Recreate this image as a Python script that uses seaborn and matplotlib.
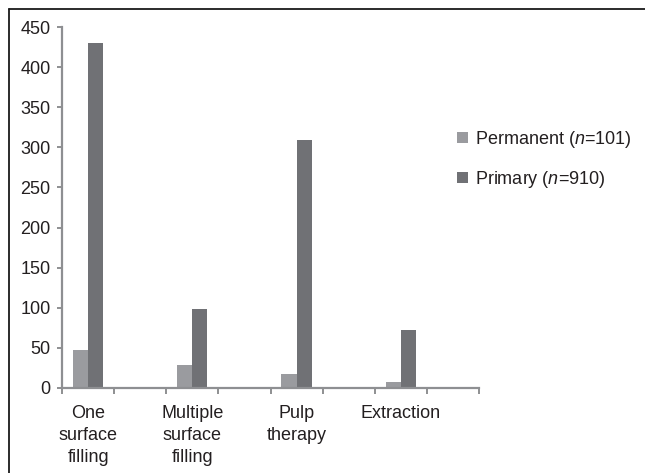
import matplotlib
matplotlib.use("Agg")
import matplotlib.pyplot as plt
from matplotlib.lines import Line2D
import numpy as np
import pandas as pd
import seaborn as sns

# Treatment counts by dentition
treatments = ["One\nsurface\nfilling", "Multiple\nsurface\nfilling", "Pulp\ntherapy", "Extraction"]
permanent = [47, 29, 18, 7]
primary = [430, 99, 309, 72]
series_names = ["Permanent ($n$=101)", "Primary ($n$=910)"]
y_ticks = [0, 50, 100, 150, 200, 250, 300, 350, 400, 450]

df = pd.DataFrame({
    "treatment": treatments * 2,
    "count": permanent + primary,
    "dentition": [series_names[0]] * len(treatments) + [series_names[1]] * len(treatments),
})

sns.set_style("white")
plt.rcParams["font.family"] = ["Liberation Sans", "DejaVu Sans"]
plt.rcParams["mathtext.fontset"] = "custom"
plt.rcParams["mathtext.rm"] = "Liberation Sans"
plt.rcParams["mathtext.it"] = "Liberation Sans:italic"

W, H = 645, 473
fig = plt.figure(figsize=(W / 100, H / 100), dpi=100)
ax = fig.add_axes([62 / W, 1 - 388 / H, (479 - 62) / W, (388 - 27) / H])

axis_grey = "#8e8f92"
text_col = "#231f20"
palette = {series_names[0]: "#9a9b9f", series_names[1]: "#707175"}
fs = 13

sns.barplot(data=df, x="treatment", y="count", hue="dentition", order=treatments,
            hue_order=series_names, palette=palette, saturation=1, width=0.29,
            linewidth=0, ax=ax)

ax.set_ylim(0, 450)
ax.set_xlim(-0.25, 3.75)
ax.set_yticks(y_ticks)
ax.set_xticks(range(len(treatments)))
ax.set_xticklabels(treatments, linespacing=1.4)
ax.set_xticks(np.arange(-0.25, 3.76, 0.5), minor=True)
ax.set_xlabel("")
ax.set_ylabel("")

for side in ["top", "right"]:
    ax.spines[side].set_visible(False)
for side in ["left", "bottom"]:
    ax.spines[side].set_color(axis_grey)
    ax.spines[side].set_linewidth(1.6)

ax.tick_params(axis="y", which="major", direction="out", length=3.8, width=1.4,
               color=axis_grey, labelsize=fs, labelcolor=text_col, pad=4.5, left=True)
ax.tick_params(axis="x", which="major", length=0, labelsize=fs, labelcolor=text_col, pad=12)
ax.tick_params(axis="x", which="minor", direction="out", length=4.5, width=1.4,
               color=axis_grey, bottom=True)

leg = ax.legend(loc="upper left", bbox_to_anchor=(457 / W, 1 - 129 / H),
                bbox_transform=fig.transFigure, frameon=False, fontsize=fs,
                handlelength=0.6, handleheight=0.6, handletextpad=0.4,
                labelspacing=1.05, borderpad=0, borderaxespad=0)
for t in leg.get_texts():
    t.set_color(text_col)

# Outer frame lines along the top and left edges
fig.add_artist(Line2D([8.5 / W, 8.5 / W], [0, 1 - 9 / H], transform=fig.transFigure,
                      color="#1a1a1a", linewidth=1.3))
fig.add_artist(Line2D([8.5 / W, 1], [1 - 9 / H, 1 - 9 / H], transform=fig.transFigure,
                      color="#1a1a1a", linewidth=1.3))

fig.savefig("out.png", dpi=100)
